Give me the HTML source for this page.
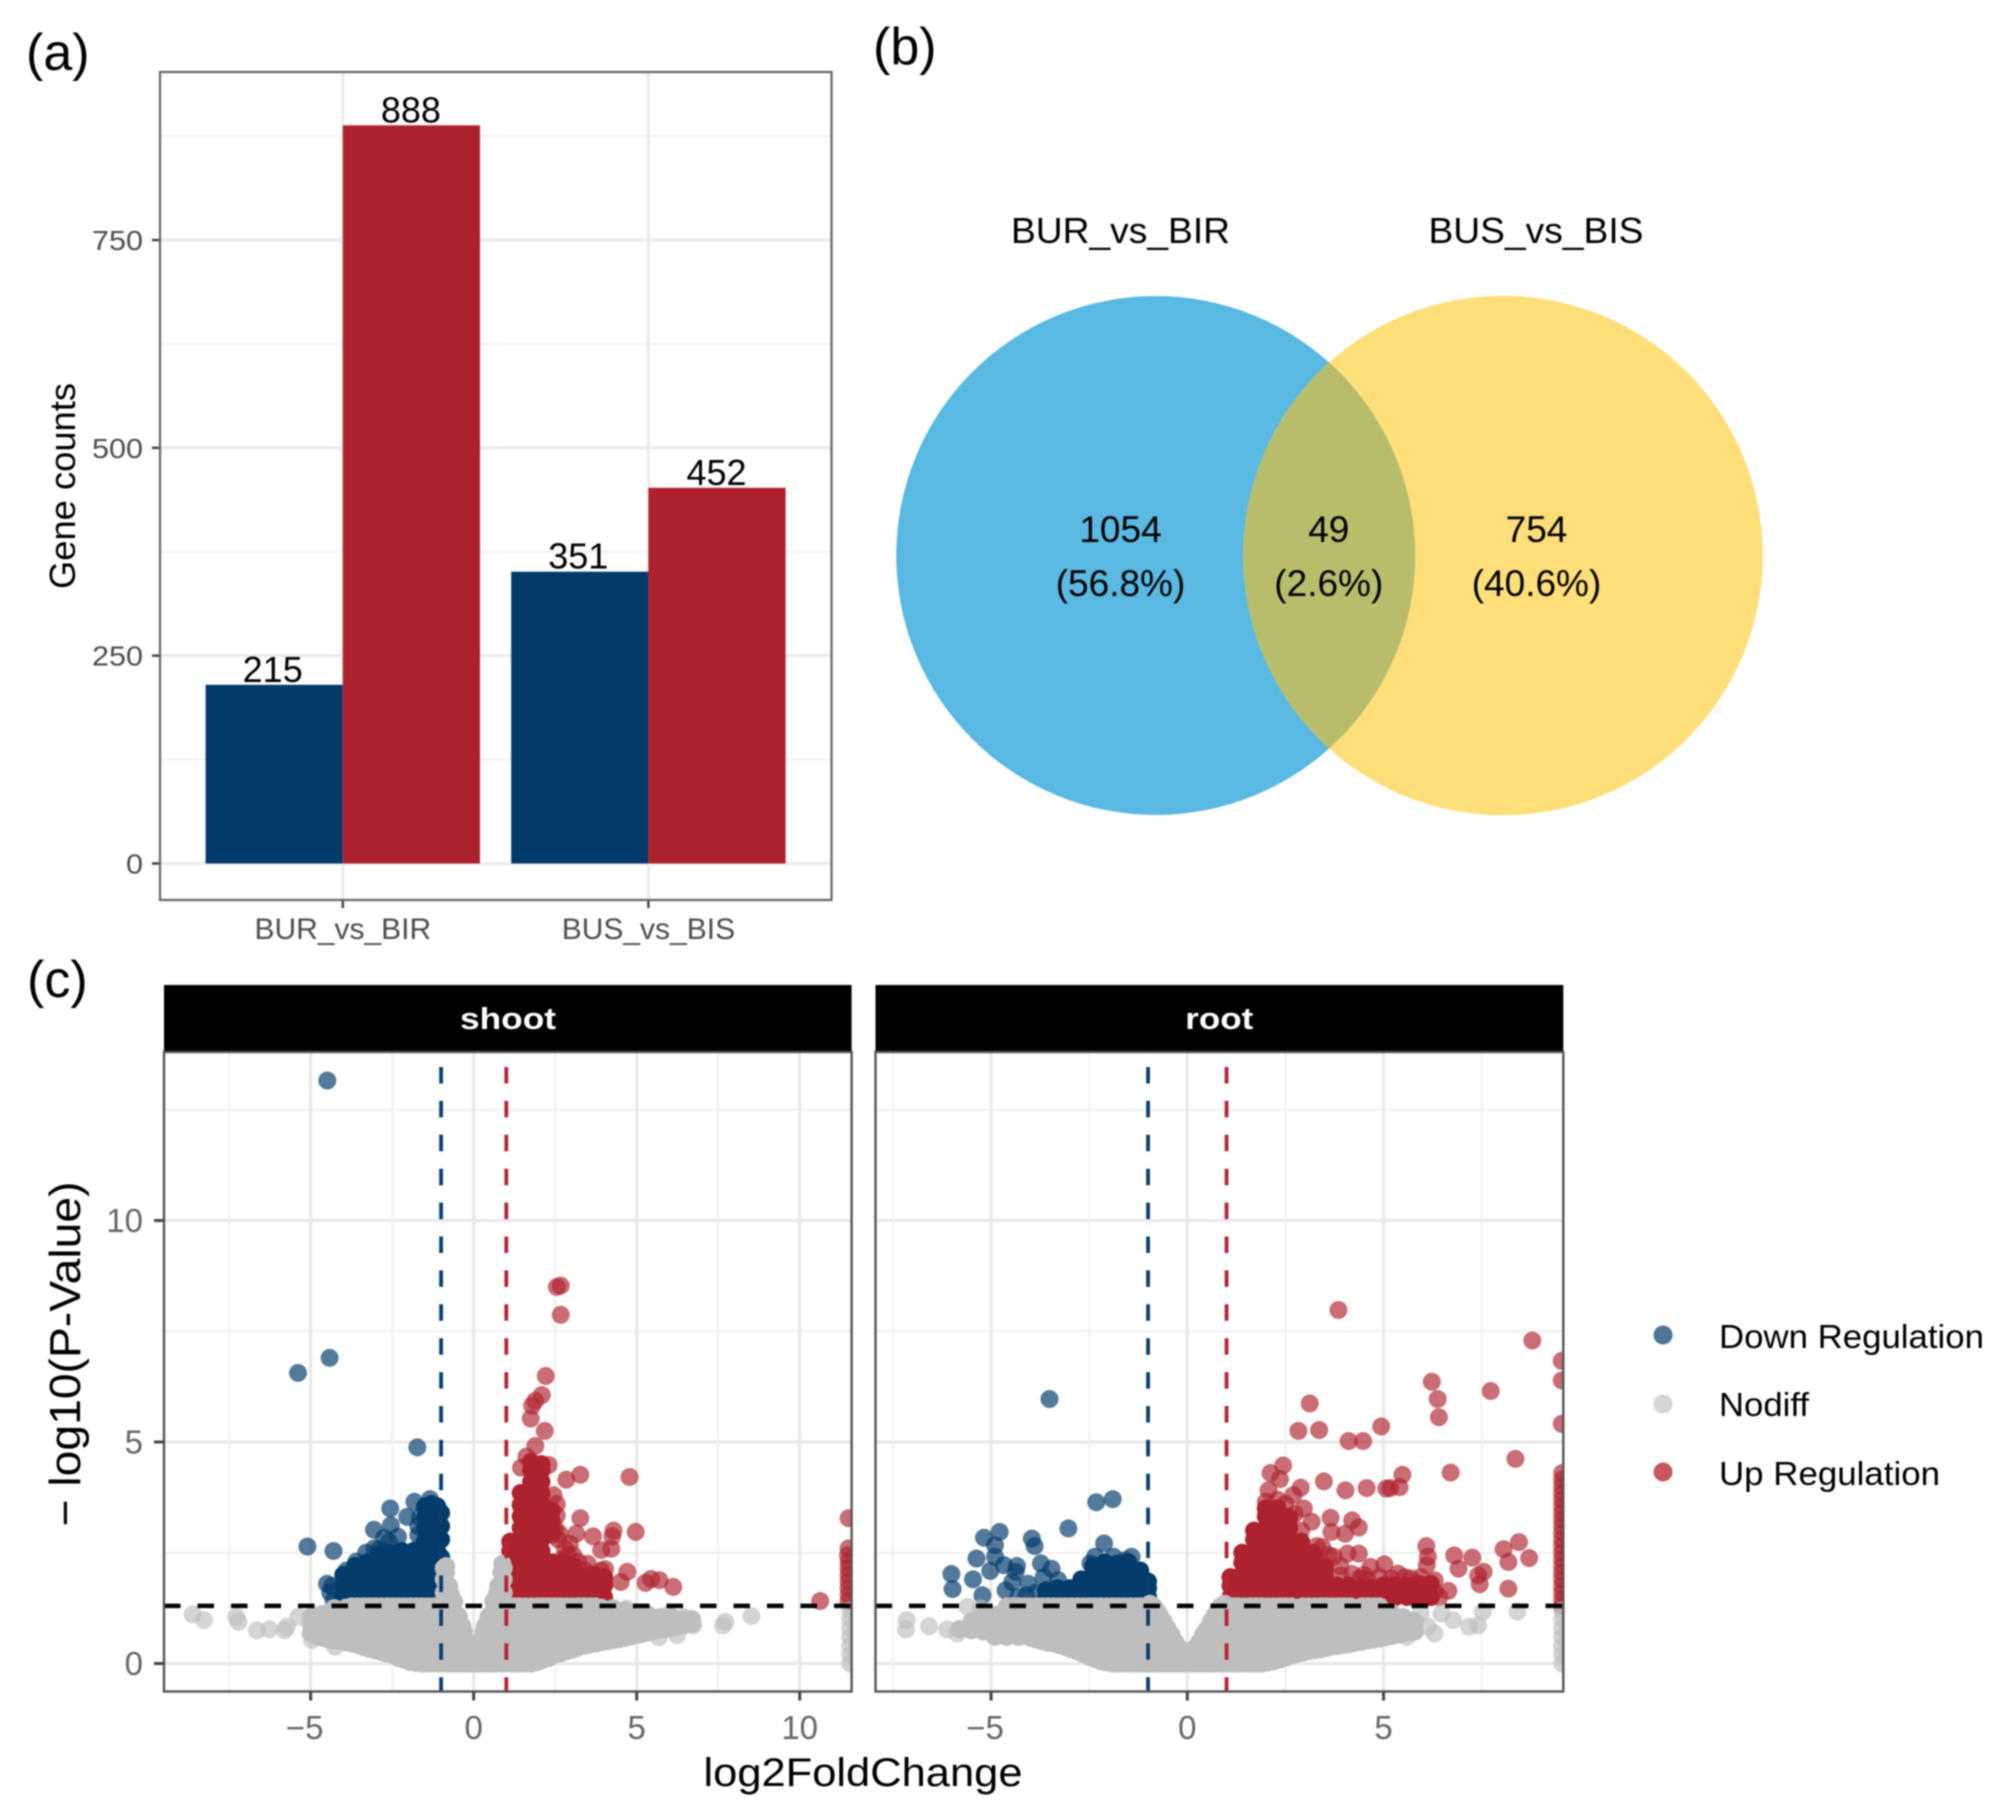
<!DOCTYPE html>
<html lang="en">
<head>
<meta charset="utf-8">
<title>Differential gene expression figure</title>
<style>
html,body{margin:0;padding:0;background:#fff;width:2003px;height:1820px;overflow:hidden}
svg{display:block;filter:blur(0.9px)}
text{font-family:"Liberation Sans",sans-serif}
</style>
</head>
<body>
<svg id="fig" xmlns="http://www.w3.org/2000/svg" width="2003" height="1820" viewBox="0 0 2003 1820">
  <rect x="0" y="0" width="2003" height="1820" fill="#fff"/>
  <defs>
    <clipPath id="clipShoot"><rect x="164" y="1052" width="687.6" height="639.5"/></clipPath>
    <clipPath id="clipRoot"><rect x="875.5" y="1052" width="687.8" height="639.5"/></clipPath>
    <clipPath id="clipYellow"><circle cx="1503" cy="555.5" r="259.8"/></clipPath>
  </defs>
  <text x="26" y="70" font-size="52" fill="#000">(a)</text>
  <text x="873" y="64" font-size="52" fill="#000">(b)</text>
  <text x="27" y="997" font-size="52" fill="#000">(c)</text>
  <g id="barChart"></g>
  <g>
    <circle cx="1155.7" cy="555.5" r="259.5" fill="#5AB9E2"/>
    <circle cx="1503" cy="555.5" r="259.8" fill="#FEDF79"/>
    <circle cx="1155.7" cy="555.5" r="259.5" fill="#B8BD6C" clip-path="url(#clipYellow)"/>
    <text x="1120.5" y="243" font-size="36" text-anchor="middle" textLength="219" lengthAdjust="spacingAndGlyphs" fill="#000">BUR_vs_BIR</text>
    <text x="1536" y="243" font-size="36" text-anchor="middle" textLength="215" lengthAdjust="spacingAndGlyphs" fill="#000">BUS_vs_BIS</text>
    <text x="1120.5" y="542" font-size="37" text-anchor="middle" fill="#000">1054</text>
    <text x="1120.5" y="596" font-size="37" text-anchor="middle" fill="#000">(56.8%)</text>
    <text x="1328.8" y="542" font-size="37" text-anchor="middle" fill="#000">49</text>
    <text x="1328.8" y="596" font-size="37" text-anchor="middle" fill="#000">(2.6%)</text>
    <text x="1536.5" y="542" font-size="37" text-anchor="middle" fill="#000">754</text>
    <text x="1536.5" y="596" font-size="37" text-anchor="middle" fill="#000">(40.6%)</text>
  </g>
  <g id="shootPanel"></g>
  <g id="rootPanel"></g>
  <text transform="translate(80,1354) rotate(-90)" font-size="44" text-anchor="middle" textLength="345" lengthAdjust="spacingAndGlyphs" fill="#000">− log10(P-Value)</text>
  <text x="863" y="1786" font-size="40" text-anchor="middle" textLength="319" lengthAdjust="spacingAndGlyphs" fill="#000">log2FoldChange</text>
  <g>
    <g>
      <circle cx="1663" cy="1335" r="9.5" fill="#4f7599"/>
      <text x="1719" y="1348" font-size="33" textLength="265" lengthAdjust="spacingAndGlyphs" fill="#000">Down Regulation</text>
    </g>
    <g>
      <circle cx="1663" cy="1404" r="9.5" fill="#d6d6d6"/>
      <text x="1719" y="1416" font-size="33" textLength="90" lengthAdjust="spacingAndGlyphs" fill="#000">Nodiff</text>
    </g>
    <g>
      <circle cx="1663" cy="1472" r="9.5" fill="#c9555f"/>
      <text x="1719" y="1485" font-size="33" textLength="221" lengthAdjust="spacingAndGlyphs" fill="#000">Up Regulation</text>
    </g>
  </g>
</svg>
<script>
// ---- bar chart data ----
const barCategories = ["BUR_vs_BIR", "BUS_vs_BIS"];
const downCounts = [215, 351];
const upCounts = [888, 452];
const barTicks = [0, 250, 500, 750];
const barMinorTicks = [125, 375, 625, 875];

// ---- volcano axis data ----
const shootXTicks = [-5, 0, 5, 10];
const shootXMinor = [-7.5, -2.5, 2.5, 7.5];
const rootXTicks = [-5, 0, 5];
const rootXMinor = [-7.5, -2.5, 2.5, 7.5];
const volcanoYTicks = [0, 5, 10];
const volcanoYMinor = [2.5, 7.5, 12.5];
const pThreshold = [1.3];
const foldThresholds = [-1, 1];

// ---- shoot panel points [log2FC, -log10P] ----
const shootDownSparse = [[-4.49,13.16],[-4.42,6.9],[-5.39,6.56],[-1.73,4.88],[-5.1,2.64],[-4.3,2.54],[-2.56,3.5],[-3.06,3.02],[-2.54,3.12],[-2.75,2.84],[-2.32,2.86],[-2.04,3.31],[-1.82,3.65],[-1.34,3.71],[-1.5,3.53],[-3.9,2.1],[-3.6,2.3],[-3.3,2.5],[-3.05,2.6],[-2.9,2.58],[-2.6,2.75],[-4.5,1.8],[-4.35,1.75],[-4.3,1.43],[-4.05,1.4],[-4.4,1.6],[-1.7,2.9],[-1.7,3.1],[-1.65,3.3],[-1.6,2.65]];
const shootDownDense = [[-4,1.5],[-4,1.76],[-4,2],[-3.64,1.5],[-3.64,1.76],[-3.64,2.02],[-3.64,2.2],[-3.28,1.5],[-3.28,1.76],[-3.28,2.02],[-3.28,2.28],[-2.92,1.5],[-2.92,1.76],[-2.92,2.02],[-2.92,2.28],[-2.92,2.45],[-2.56,1.5],[-2.56,1.76],[-2.56,2.02],[-2.56,2.28],[-2.56,2.5],[-2.2,1.5],[-2.2,1.76],[-2.2,2.02],[-2.2,2.28],[-2.2,2.54],[-1.84,1.5],[-1.84,1.76],[-1.84,2.02],[-1.84,2.28],[-1.84,2.54],[-1.48,1.5],[-1.48,1.76],[-1.48,2.02],[-1.48,2.28],[-1.48,2.54],[-1.48,2.8],[-1.48,3.06],[-1.48,3.32],[-1.48,3.55],[-1.3,3.6],[-1.12,1.5],[-1.12,1.76],[-1.12,2.02],[-1.12,2.28],[-1.12,2.54],[-1.12,2.8],[-1.12,3.06],[-1.12,3.32],[-1.12,3.55],[-1,1.5],[-1,2],[-1,2.4],[-1,2.8],[-1,3.1],[-1,3.4]];
const shootUpSparse = [[2.55,8.5],[2.67,8.53],[2.67,7.87],[2.21,6.49],[2.09,6.06],[1.89,5.93],[1.79,5.82],[1.75,5.53],[2.18,5.25],[1.89,4.91],[1.62,4.67],[2.84,4.15],[3.27,4.26],[4.78,4.21],[2.3,4.48],[1.45,4.42],[1.87,4.48],[2.55,3.34],[3.27,3.28],[4.29,3],[4.97,2.97],[4.25,2.87],[3.66,2.87],[3.15,2.93],[2.21,2.91],[2.64,2.93],[3.91,2.56],[4.22,2.59],[2.89,2.44],[4.71,2.07],[4.51,1.84],[5.27,1.82],[5.44,1.91],[5.7,1.88],[6.12,1.73],[4.03,2.13],[10.63,1.41],[2.5,3.05],[2.6,2.8],[2.3,3.4],[2.4,2.9],[3.2,2.3],[3.4,2.1],[3.6,2],[3.9,2.1],[4,1.85],[2.8,2.6],[2.7,2.35],[3.05,2.45],[2.95,2.7],[3.5,2.25],[2.55,3.6],[2.45,3.8],[11.5,3.28],[11.48,2.44],[11.5,2.6],[11.5,2.3],[11.5,2.15],[11.5,2],[11.5,1.85],[11.5,1.7],[11.5,1.55],[11.5,1.4]];
const shootUpDense = [[1.12,1.5],[1.12,1.76],[1.12,2.02],[1.12,2.28],[1.12,2.54],[1.12,2.75],[1.44,1.5],[1.44,1.76],[1.44,2.02],[1.44,2.28],[1.44,2.54],[1.44,2.8],[1.44,3.06],[1.44,3.32],[1.44,3.58],[1.44,3.85],[1.76,1.5],[1.76,1.76],[1.76,2.02],[1.76,2.28],[1.76,2.54],[1.76,2.8],[1.76,3.06],[1.76,3.32],[1.76,3.58],[1.76,3.84],[1.76,4.1],[1.76,4.36],[1.76,4.55],[2.08,1.5],[2.08,1.76],[2.08,2.02],[2.08,2.28],[2.08,2.54],[2.08,2.8],[2.08,3.06],[2.08,3.32],[2.08,3.58],[2.08,3.84],[2.08,4.1],[2.08,4.36],[2.08,4.5],[2.4,1.5],[2.4,1.76],[2.4,2.02],[2.4,2.28],[2.4,3],[2.4,3.2],[2.4,3.45],[2.72,1.5],[2.72,1.76],[2.72,2.02],[2.72,2.28],[3.04,1.5],[3.04,1.76],[3.04,2.02],[3.04,2.2],[3.36,1.5],[3.36,1.76],[3.36,1.95],[3.68,1.5],[3.68,1.76],[3.68,2],[4,1.5],[4,1.76],[4,1.95]];
const shootNodiffSparse = [[-8.62,1.11],[-8.27,0.98],[-7.28,1.05],[-7.21,0.94],[-6.65,0.75],[-6.27,0.77],[-5.8,0.75],[-5.38,1.05],[-4.89,1.09],[-4.63,1.13],[-4.46,1.02],[-5.73,0.83],[7.72,0.94],[7.65,0.86],[8.52,1.07],[5.96,1.09],[6.45,1.05],[6.73,0.86],[6.24,0.64],[5.68,0.59],[4.69,1.24],[-4.96,0.53],[-4.25,0.38],[11.55,0],[11.55,0.2],[11.55,0.4],[11.55,0.6],[11.55,0.8],[11.55,1],[11.55,1.2]];
const shootNodiffDense = [[-5,0.68],[-5,0.9],[-5,1.05],[-4.64,0.58],[-4.64,0.84],[-4.64,1.1],[-4.28,0.52],[-4.28,0.78],[-4.28,1.04],[-4.28,1.25],[-3.92,0.48],[-3.92,0.74],[-3.92,1],[-3.92,1.26],[-3.56,0.42],[-3.56,0.68],[-3.56,0.94],[-3.56,1.2],[-3.56,1.29],[-3.2,0.33],[-3.2,0.59],[-3.2,0.85],[-3.2,1.11],[-3.2,1.29],[-2.84,0.26],[-2.84,0.52],[-2.84,0.78],[-2.84,1.04],[-2.84,1.29],[-2.48,0.19],[-2.48,0.45],[-2.48,0.71],[-2.48,0.97],[-2.48,1.23],[-2.48,1.29],[-2.12,0.08],[-2.12,0.34],[-2.12,0.6],[-2.12,0.86],[-2.12,1.12],[-2.12,1.29],[-1.76,0.01],[-1.76,0.27],[-1.76,0.53],[-1.76,0.79],[-1.76,1.05],[-1.76,1.29],[-1.4,0],[-1.4,0.26],[-1.4,0.52],[-1.4,0.78],[-1.4,1.04],[-1.4,1.29],[-1.04,0],[-1.04,0.26],[-1.04,0.52],[-1.04,0.78],[-1.04,1.04],[-1.04,1.29],[-0.85,1.3],[-0.85,1.55],[-0.85,1.8],[-0.85,2.05],[-0.85,2.2],[-0.7,0],[-0.7,0.26],[-0.7,0.52],[-0.7,0.78],[-0.7,1.04],[-0.7,1.29],[-0.7,1.55],[-0.5,0],[-0.5,0.26],[-0.5,0.52],[-0.5,0.78],[-0.5,1.1],[-0.3,0],[-0.3,0.26],[-0.3,0.5],[-0.3,0.7],[-0.12,0],[-0.12,0.2],[-0.12,0.3],[0,0],[0,0.2],[0.12,0],[0.12,0.2],[0.12,0.3],[0.3,0],[0.3,0.26],[0.3,0.5],[0.3,0.7],[0.5,0],[0.5,0.26],[0.5,0.52],[0.5,0.78],[0.5,1.1],[0.7,0],[0.7,0.26],[0.7,0.52],[0.7,0.78],[0.7,1.04],[0.7,1.29],[0.7,1.55],[0.85,1.3],[0.85,1.55],[0.85,1.8],[0.85,2.05],[0.88,2.25],[1.04,0],[1.04,0.26],[1.04,0.52],[1.04,0.78],[1.04,1.04],[1.04,1.29],[1.4,0],[1.4,0.26],[1.4,0.52],[1.4,0.78],[1.4,1.04],[1.4,1.29],[1.76,0],[1.76,0.26],[1.76,0.52],[1.76,0.78],[1.76,1.04],[1.76,1.29],[2.12,0.08],[2.12,0.34],[2.12,0.6],[2.12,0.86],[2.12,1.12],[2.12,1.29],[2.48,0.19],[2.48,0.45],[2.48,0.71],[2.48,0.97],[2.48,1.23],[2.48,1.29],[2.84,0.28],[2.84,0.54],[2.84,0.8],[2.84,1.06],[2.84,1.29],[3.2,0.36],[3.2,0.62],[3.2,0.88],[3.2,1.14],[3.2,1.29],[3.56,0.43],[3.56,0.69],[3.56,0.95],[3.56,1.21],[3.56,1.29],[3.92,0.48],[3.92,0.74],[3.92,1],[3.92,1.26],[4.28,0.53],[4.28,0.79],[4.28,1.05],[4.28,1.25],[4.64,0.58],[4.64,0.84],[4.64,1.1],[4.64,1.2],[5,0.64],[5,0.88],[5,1.1],[5.36,0.7],[5.36,0.92],[5.36,1.1],[5.72,0.76],[5.72,1.05],[6.08,0.8],[6.08,1.05],[6.44,0.86],[6.44,1],[6.7,0.9],[6.7,1]];
const shootNodiffEdges = [[-4.82,0.62],[-4.46,0.54],[-4.1,0.5],[-3.74,0.45],[-3.38,0.37],[-3.02,0.3],[-2.66,0.22],[-2.3,0.12],[-1.94,0.03],[-1.58,0],[-1.22,0],[-0.87,0],[-0.6,0],[-0.4,0],[-0.2,0],[0.2,0],[0.4,0],[0.6,0],[0.87,0],[1.22,0],[1.58,0],[1.94,0.03],[2.3,0.12],[2.66,0.23],[3.02,0.31],[3.38,0.4],[3.74,0.45],[4.1,0.5],[4.46,0.55],[4.82,0.61],[5.18,0.67],[5.54,0.73],[5.9,0.78],[6.26,0.83],[-3.74,1.29],[-3.38,1.29],[-3.02,1.29],[-2.66,1.29],[-2.3,1.29],[-1.94,1.29],[-1.58,1.29],[-1.22,1.29],[1.22,1.29],[1.58,1.29],[1.94,1.29],[2.3,1.29],[2.66,1.29],[3.02,1.29],[3.38,1.29],[3.74,1.29],[-0.2,0.5],[0.2,0.5],[-0.35,0.85],[0.35,0.85],[-0.45,1.05],[0.45,1.05],[-0.6,1.4],[0.6,1.4],[-0.75,1.75],[0.75,1.75],[-0.92,1.6],[0.92,1.6],[-0.92,1.9],[0.92,1.9],[-0.92,2.15],[0.92,2.15],[-0.92,1.35],[0.92,1.35]];

// ---- root panel points [log2FC, -log10P] ----
const rootDownSparse = [[-3.51,5.97],[-2.32,3.64],[-1.9,3.71],[-3.03,3.05],[-4.78,2.97],[-5.18,2.84],[-4.9,2.67],[-3.96,2.82],[-3.89,2.65],[-5.37,2.37],[-4.9,2.41],[-4.67,2.22],[-5.02,2.09],[-4.34,2.2],[-4.37,2.07],[-3.73,2.26],[-3.46,2.14],[-3.66,1.95],[-3.29,1.88],[-6.01,2.02],[-5.98,1.68],[-5.46,1.9],[-5.22,1.54],[-4.63,1.65],[-4.05,1.8],[-4.1,1.54],[-4.46,1.84],[-2.12,2.71],[-2.35,2.41],[-2.47,2.26],[-1.42,2.41],[-1.88,2.41],[-1.59,2.33],[-4.3,1.5],[-3.85,1.6]];
const rootDownDense = [[-3.6,1.5],[-3.6,1.65],[-3.3,1.5],[-3.3,1.7],[-3,1.5],[-3,1.7],[-2.7,1.5],[-2.7,1.76],[-2.7,1.9],[-2.4,1.5],[-2.4,1.76],[-2.4,2.02],[-2.4,2.2],[-2.1,1.5],[-2.1,1.76],[-2.1,2.02],[-2.1,2.28],[-1.8,1.5],[-1.8,1.76],[-1.8,2.02],[-1.8,2.25],[-1.5,1.5],[-1.5,1.76],[-1.5,2.02],[-1.5,2.28],[-1.2,1.5],[-1.2,1.76],[-1.2,2],[-1.2,2.1],[-1,1.5],[-1,1.7],[-1,1.85]];
const rootUpSparse = [[3.85,7.98],[8.79,7.29],[9.54,6.83],[9.54,6.39],[9.54,5.41],[6.23,6.36],[7.73,6.15],[6.38,5.97],[6.41,5.56],[3.12,5.87],[2.83,5.25],[3.36,5.27],[4.94,5.35],[4.11,5.02],[4.48,5.02],[8.36,4.62],[6.71,4.31],[5.48,4.26],[3.48,4.11],[4.03,3.91],[4.57,3.96],[5.07,3.95],[5.17,3.96],[5.41,3.98],[2.44,4.47],[2.12,4.3],[2.36,4.16],[2.07,3.91],[2.89,3.97],[2.7,3.8],[2.97,3.5],[2.74,3.38],[3.17,3.2],[3.65,3.29],[4.2,3.23],[4.37,3.07],[3.67,2.97],[4.02,2.93],[3.44,2.63],[4.08,2.48],[4.37,2.48],[3.73,2.41],[6.09,2.65],[6.13,2.41],[6.1,2.22],[6.8,2.44],[7.26,2.39],[6.91,2.14],[7.55,2.07],[7.41,1.99],[7.45,1.79],[8.06,2.58],[8.45,2.74],[8.71,2.38],[8.18,2.29],[8.18,1.69],[6.65,1.64],[6.42,1.5],[6.01,1.5],[5.02,2.24],[5.37,2.03],[4.67,2.18],[5.13,1.77],[5.54,1.95],[5.95,1.95],[6.3,1.88],[4.78,1.58],[3.3,2.4],[3.5,2.2],[3.9,2.2],[4.5,2],[2.9,3],[2.5,3.6],[3.3,2.65],[3.6,2.45],[3.9,1.98],[4.2,2.02],[4.4,1.92],[4.6,1.88],[4.9,1.96],[5.2,1.92],[5.7,1.92],[6,1.78],[6.3,1.62],[2.3,3.7],[2,3.65],[9.55,4.3],[9.55,4.15],[9.55,4],[9.55,3.85],[9.55,3.7],[9.55,3.55],[9.55,3.4],[9.55,3.25],[9.55,3.1],[9.55,2.95],[9.55,2.8],[9.55,2.65],[9.55,2.5],[9.55,2.35],[9.55,2.2],[9.55,2.05],[9.55,1.9],[9.55,1.75],[9.55,1.6],[9.55,1.45],[9.55,1.3]];
const rootUpDense = [[1.1,1.5],[1.1,1.76],[1.1,1.95],[1.4,1.5],[1.4,1.76],[1.4,2.02],[1.4,2.28],[1.4,2.5],[1.7,1.5],[1.7,1.76],[1.7,2.02],[1.7,2.28],[1.7,2.54],[1.7,2.8],[1.7,3],[2,1.5],[2,1.76],[2,2.02],[2,2.28],[2,2.54],[2,2.8],[2,3.06],[2,3.32],[2,3.5],[2.3,1.5],[2.3,1.76],[2.3,2.02],[2.3,2.28],[2.3,2.54],[2.3,2.8],[2.3,3.06],[2.3,3.32],[2.3,3.5],[2.6,1.5],[2.6,1.76],[2.6,2.02],[2.6,2.28],[2.6,2.54],[2.6,2.8],[2.6,3.06],[2.6,3.3],[2.9,1.5],[2.9,1.76],[2.9,2.02],[2.9,2.28],[2.9,2.54],[2.9,2.75],[3.2,1.5],[3.2,1.76],[3.2,2],[3.2,2.25],[3.2,2.5],[3.5,1.5],[3.5,1.76],[3.5,2],[3.5,2.15],[3.8,1.5],[3.8,1.76],[4.1,1.5],[4.1,1.76],[4.4,1.5],[4.4,1.7],[4.7,1.5],[4.7,1.7],[5,1.5],[5,1.76],[5.3,1.5],[5.3,1.76],[5.6,1.5],[5.6,1.75],[5.9,1.5],[5.9,1.8],[6.2,1.5],[6.2,1.8]];
const rootNodiffSparse = [[-7.15,0.98],[-7.17,0.77],[-6.58,0.84],[-6.12,0.77],[-5.86,0.68],[-5.6,1.28],[-5.27,1.24],[-4.87,1.05],[6.48,1.13],[6.77,0.98],[7.18,0.83],[7.41,0.86],[7.53,1.17],[8.41,1.17],[6.3,0.68],[5.72,0.98],[5.95,1.13],[6.13,0.83],[5.6,0.6],[9.55,0],[9.55,0.2],[9.55,0.4],[9.55,0.6],[9.55,0.8],[9.55,1],[9.55,1.2]];
const rootNodiffDense = [[-5.8,0.78],[-5.5,0.75],[-5.5,0.95],[-5.2,0.72],[-5.2,0.95],[-5.2,1.1],[-4.9,0.6],[-4.9,0.85],[-4.9,1.1],[-4.6,0.6],[-4.6,0.86],[-4.6,1.12],[-4.6,1.29],[-4.3,0.6],[-4.3,0.86],[-4.3,1.12],[-4.3,1.29],[-4,0.58],[-4,0.84],[-4,1.1],[-4,1.29],[-3.7,0.5],[-3.7,0.76],[-3.7,1.02],[-3.7,1.29],[-3.4,0.45],[-3.4,0.71],[-3.4,0.97],[-3.4,1.23],[-3.4,1.29],[-3.1,0.37],[-3.1,0.63],[-3.1,0.89],[-3.1,1.15],[-3.1,1.29],[-2.8,0.27],[-2.8,0.53],[-2.8,0.79],[-2.8,1.05],[-2.8,1.29],[-2.5,0.15],[-2.5,0.41],[-2.5,0.67],[-2.5,0.93],[-2.5,1.19],[-2.5,1.29],[-2.2,0.05],[-2.2,0.31],[-2.2,0.57],[-2.2,0.83],[-2.2,1.09],[-2.2,1.29],[-1.9,0],[-1.9,0.26],[-1.9,0.52],[-1.9,0.78],[-1.9,1.04],[-1.9,1.29],[-1.6,0],[-1.6,0.26],[-1.6,0.52],[-1.6,0.78],[-1.6,1.04],[-1.6,1.29],[-1.3,0],[-1.3,0.26],[-1.3,0.52],[-1.3,0.78],[-1.3,1.04],[-1.3,1.29],[-1.05,0],[-1.05,0.26],[-1.05,0.52],[-1.05,0.78],[-1.05,1.04],[-1.05,1.29],[-0.85,0],[-0.85,0.26],[-0.85,0.52],[-0.85,0.78],[-0.85,1.04],[-0.85,1.29],[-0.7,0],[-0.7,0.26],[-0.7,0.52],[-0.7,0.78],[-0.7,1.09],[-0.5,0],[-0.5,0.26],[-0.5,0.52],[-0.5,0.78],[-0.3,0],[-0.3,0.26],[-0.3,0.48],[-0.1,0],[-0.1,0.2],[0,0.15],[0.1,0],[0.1,0.2],[0.3,0],[0.3,0.26],[0.3,0.48],[0.5,0],[0.5,0.26],[0.5,0.52],[0.5,0.78],[0.7,0],[0.7,0.26],[0.7,0.52],[0.7,0.78],[0.7,1.09],[0.85,0],[0.85,0.26],[0.85,0.52],[0.85,0.78],[0.85,1.04],[0.85,1.29],[1.05,0],[1.05,0.26],[1.05,0.52],[1.05,0.78],[1.05,1.04],[1.05,1.29],[1.3,0],[1.3,0.26],[1.3,0.52],[1.3,0.78],[1.3,1.04],[1.3,1.29],[1.6,0],[1.6,0.26],[1.6,0.52],[1.6,0.78],[1.6,1.04],[1.6,1.29],[1.9,0],[1.9,0.26],[1.9,0.52],[1.9,0.78],[1.9,1.04],[1.9,1.29],[2.2,0.05],[2.2,0.31],[2.2,0.57],[2.2,0.83],[2.2,1.09],[2.2,1.29],[2.5,0.13],[2.5,0.39],[2.5,0.65],[2.5,0.91],[2.5,1.17],[2.5,1.29],[2.8,0.22],[2.8,0.48],[2.8,0.74],[2.8,1],[2.8,1.26],[3.1,0.28],[3.1,0.54],[3.1,0.8],[3.1,1.06],[3.1,1.29],[3.4,0.32],[3.4,0.58],[3.4,0.84],[3.4,1.1],[3.4,1.29],[3.7,0.38],[3.7,0.64],[3.7,0.9],[3.7,1.16],[3.7,1.29],[4,0.42],[4,0.68],[4,0.94],[4,1.2],[4,1.29],[4.3,0.47],[4.3,0.73],[4.3,0.99],[4.3,1.25],[4.6,0.52],[4.6,0.78],[4.6,1.04],[4.6,1.29],[4.9,0.56],[4.9,0.82],[4.9,1.08],[4.9,1.29],[5.2,0.62],[5.2,0.88],[5.2,1.15],[5.5,0.68],[5.5,0.9],[5.5,1.05],[5.8,0.72],[5.8,0.95]];
const rootNodiffEdges = [[-3.85,0.54],[-3.55,0.47],[-3.25,0.41],[-2.95,0.32],[-2.65,0.21],[-2.35,0.1],[-2.05,0.02],[-1.75,0],[-1.45,0],[-1.18,0],[-0.95,0],[-0.6,0],[-0.4,0],[-0.2,0],[0.2,0],[0.4,0],[0.6,0],[0.95,0],[1.18,0],[1.45,0],[1.75,0],[2.05,0.02],[2.35,0.09],[2.65,0.17],[2.95,0.25],[3.25,0.3],[3.55,0.35],[3.85,0.4],[4.15,0.44],[4.45,0.49],[4.75,0.54],[5.05,0.59],[5.35,0.65],[5.65,0.7],[-4.45,1.29],[-4.15,1.29],[-3.85,1.29],[-3.55,1.29],[-3.25,1.29],[-2.95,1.29],[-2.65,1.29],[-2.35,1.29],[-2.05,1.29],[-1.75,1.29],[-1.45,1.29],[-1.18,1.29],[1.18,1.29],[1.45,1.29],[1.75,1.29],[2.05,1.29],[2.35,1.29],[2.65,1.29],[2.95,1.29],[3.25,1.29],[3.55,1.29],[3.85,1.29],[4.15,1.29],[4.45,1.29],[4.75,1.29],[-0.6,0.95],[0.6,0.95],[-0.4,0.65],[0.4,0.65],[-0.2,0.35],[0.2,0.35],[-0.78,1.2],[0.78,1.2],[-0.95,1.35],[0.95,1.35],[-0.95,1.1],[0.95,1.1]];

const NS = "http://www.w3.org/2000/svg";
function mk(parent, tag, attrs) {
  const el = document.createElementNS(NS, tag);
  for (const k in attrs) el.setAttribute(k, attrs[k]);
  parent.appendChild(el);
  return el;
}
function label(parent, str, name, attrs) {
  const el = mk(parent, "text", attrs);
  
  
  el.textContent = str;
  return el;
}
function rule(parent, name, x1, y1, x2, y2, stroke, width, dash) {
  const el = mk(parent, "line", {x1: x1, y1: y1, x2: x2, y2: y2, stroke: stroke, "stroke-width": width});
  if (dash) el.setAttribute("stroke-dasharray", dash);
  
  
  return el;
}

// ---- bar chart ----
(function () {
  const g = document.getElementById("barChart");
  const L = 160, R = 831.5, T = 72, B = 900;
  const bx = i => 342.8 + 305.6 * i;
  const by = v => 863.5 - 0.8313 * v;
  const bw = 137.2;
  barMinorTicks.forEach(v => rule(g, "grid-minor-y", L, by(v), R, by(v), "#f2f2f2", 2));
  barTicks.forEach(v => rule(g, "grid-major-y", L, by(v), R, by(v), "#ececec", 3.2));
  barCategories.forEach((c, i) => rule(g, "grid-major-x", bx(i), T, bx(i), B, "#ececec", 3.2));
  barCategories.forEach((c, i) => {
    const d = mk(g, "rect", {x: bx(i) - bw, y: by(downCounts[i]), width: bw, height: by(0) - by(downCounts[i]), fill: "#043A69"});
    
    
    const u = mk(g, "rect", {x: bx(i), y: by(upCounts[i]), width: bw, height: by(0) - by(upCounts[i]), fill: "#AE222E"});
    
    
    label(g, String(downCounts[i]), "bar-value-down", {x: bx(i) - bw / 2 - 1.5, y: by(downCounts[i]) - 3, "font-size": 36, "text-anchor": "middle", fill: "#000"});
    label(g, String(upCounts[i]), "bar-value-up", {x: bx(i) + bw / 2 - 0.5, y: by(upCounts[i]) - 3, "font-size": 36, "text-anchor": "middle", fill: "#000"});
    rule(g, "x-tick", bx(i), B, bx(i), B + 8, "#444", 2.5);
    label(g, c, "x-tick-label", {x: bx(i), y: 939, "font-size": 30, "text-anchor": "middle", fill: "#4d4d4d"});
  });
  barTicks.forEach(v => {
    rule(g, "y-tick", L - 8, by(v), L, by(v), "#444", 2.5);
    label(g, String(v), "y-tick-label", {x: 143, y: by(v) + 10, "font-size": 28, "text-anchor": "end", fill: "#4d4d4d", textLength: 1.668 * 30.6 * String(v).length / 3, lengthAdjust: "spacingAndGlyphs"});
  });
  const fr = mk(g, "rect", {x: L, y: T, width: R - L, height: B - T, fill: "none", stroke: "#666", "stroke-width": 2.2});
  
  
  label(g, "Gene counts", "y-axis-title-gene-counts", {transform: "translate(75,486) rotate(-90)", "font-size": 36, "text-anchor": "middle", fill: "#000", textLength: 206, lengthAdjust: "spacingAndGlyphs"});
})();

// ---- volcano panels ----
const volcanoY = v => 1663.5 - 44.3 * v;
function drawPoints(g, pts, xf, fill, opacity, name) {
  pts.forEach(p => {
    const c = mk(g, "circle", {cx: xf(p[0]), cy: volcanoY(p[1]), r: 9, fill: fill, "fill-opacity": opacity});
    
    
  });
}
function drawVolcano(cfg) {
  const g = document.getElementById(cfg.id);
  const L = cfg.L, R = cfg.R, T = 1052, B = 1691.5, xf = cfg.xf;
  const strip = mk(g, "rect", {x: L, y: 985, width: R - L, height: T - 985, fill: "#000"});
  
  
  label(g, cfg.title, "facet-label-" + cfg.title, {x: cfg.titleX, y: 1029, "font-size": 31, "font-weight": "bold", "text-anchor": "middle", fill: "#fff", textLength: cfg.titleLen, lengthAdjust: "spacingAndGlyphs"});
  volcanoYMinor.forEach(v => rule(g, "grid-minor-y", L, volcanoY(v), R, volcanoY(v), "#f1f1f1", 2));
  volcanoYTicks.forEach(v => rule(g, "grid-major-y", L, volcanoY(v), R, volcanoY(v), "#e9e9e9", 3.2));
  cfg.xMinor.forEach(v => rule(g, "grid-minor-x", xf(v), T, xf(v), B, "#f1f1f1", 2));
  cfg.xTicks.forEach(v => rule(g, "grid-major-x", xf(v), T, xf(v), B, "#e9e9e9", 3.2));
  const pg = mk(g, "g", {"clip-path": "url(#" + cfg.clip + ")"});
  
  
  drawPoints(pg, cfg.downSparse, xf, "#033B6B", 0.68, "point-down");
  drawPoints(pg, cfg.downDense, xf, "#033B6B", 1, "point-down");
  drawPoints(pg, cfg.upSparse, xf, "#AE212E", 0.66, "point-up");
  drawPoints(pg, cfg.upDense, xf, "#AE212E", 1, "point-up");
  drawPoints(pg, cfg.nodiffSparse, xf, "#BEBEBE", 0.65, "point-nodiff");
  drawPoints(pg, cfg.nodiffDense, xf, "#BEBEBE", 1, "point-nodiff");
  drawPoints(pg, cfg.nodiffEdges, xf, "#BEBEBE", 1, "point-nodiff");
  rule(g, "fold-threshold-down", xf(foldThresholds[0]), 1067, xf(foldThresholds[0]), B, "#0A3E6E", 3.8, "16.5 17.4");
  rule(g, "fold-threshold-up", xf(foldThresholds[1]), 1067, xf(foldThresholds[1]), B, "#B42433", 3.8, "16.5 17.4");
  rule(g, "p-value-threshold", L, volcanoY(pThreshold[0]), R, volcanoY(pThreshold[0]), "#000", 4.5, "16.5 17");
  const fr = mk(g, "rect", {x: L, y: T, width: R - L, height: B - T, fill: "none", stroke: "#555", "stroke-width": 2.4});
  
  
  cfg.xTicks.forEach(v => {
    rule(g, "x-tick", xf(v), B, xf(v), B + 9, "#444", 3);
    label(g, (v < 0 ? "\u2212" : "") + Math.abs(v), "x-tick-label", {x: xf(v) + (v < 0 ? -6 : 0), y: 1739, "font-size": 33, "text-anchor": "middle", fill: "#666"});
  });
  if (cfg.yAxis) {
    volcanoYTicks.forEach(v => {
      rule(g, "y-tick", L - 10, volcanoY(v), L, volcanoY(v), "#444", 3);
      label(g, String(v), "y-tick-label", {x: 143, y: volcanoY(v) + 11.5, "font-size": 33, "text-anchor": "end", fill: "#666"});
    });
  }
}
drawVolcano({id: "shootPanel", title: "shoot", clip: "clipShoot", L: 164, R: 851.6, titleX: 508, titleLen: 96, yAxis: true,
  xf: v => 473.7 + 32.6 * v, xTicks: shootXTicks, xMinor: shootXMinor,
  downSparse: shootDownSparse, downDense: shootDownDense, upSparse: shootUpSparse, upDense: shootUpDense,
  nodiffSparse: shootNodiffSparse, nodiffDense: shootNodiffDense, nodiffEdges: shootNodiffEdges});
drawVolcano({id: "rootPanel", title: "root", clip: "clipRoot", L: 875.5, R: 1563.3, titleX: 1219.3, titleLen: 68, yAxis: false,
  xf: v => 1187.3 + 39.25 * v, xTicks: rootXTicks, xMinor: rootXMinor,
  downSparse: rootDownSparse, downDense: rootDownDense, upSparse: rootUpSparse, upDense: rootUpDense,
  nodiffSparse: rootNodiffSparse, nodiffDense: rootNodiffDense, nodiffEdges: rootNodiffEdges});
</script>
</body>
</html>
